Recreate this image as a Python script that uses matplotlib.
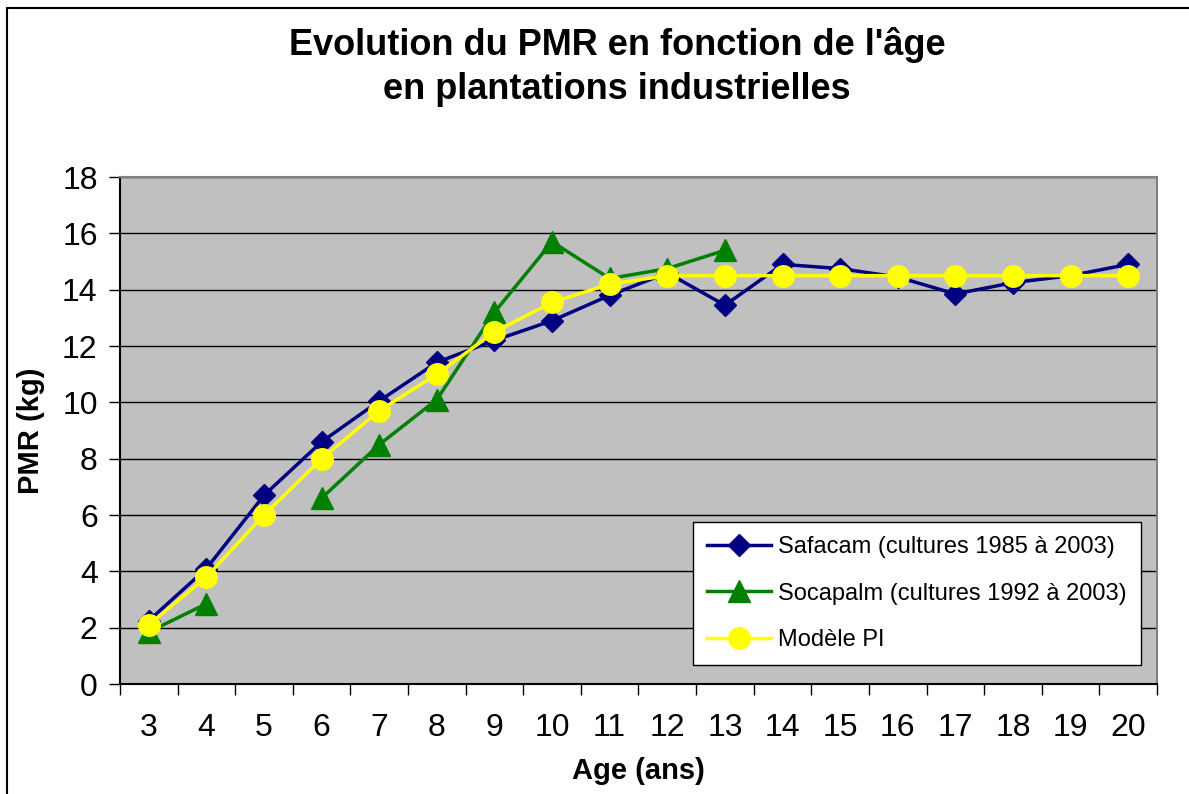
import numpy as np
import matplotlib
matplotlib.use('Agg')
import matplotlib.pyplot as plt
from matplotlib.patches import Rectangle

plt.rcParams['font.family'] = ['Liberation Sans', 'DejaVu Sans']

# données
ages = [3, 4, 5, 6, 7, 8, 9, 10, 11, 12, 13, 14, 15, 16, 17, 18, 19, 20]
safacam = [2.25, 4.1, 6.7, 8.6, 10.05, 11.42, 12.2, 12.9, 13.8, 14.6, 13.45,
           14.9, 14.75, 14.45, 13.85, 14.25, 14.5, 14.9]
socapalm = [1.85, 2.85, np.nan, 6.6, 8.5, 10.1, 13.2, 15.7, 14.4, 14.75, 15.4,
            np.nan, np.nan, np.nan, np.nan, np.nan, np.nan, np.nan]
modele_pi = [2.1, 3.8, 6.0, 8.0, 9.7, 11.0, 12.5, 13.55, 14.2, 14.5, 14.5,
             14.5, 14.5, 14.5, 14.5, 14.5, 14.5, 14.5]
y_ticks = [0, 2, 4, 6, 8, 10, 12, 14, 16, 18]

fig = plt.figure(figsize=(11.89, 7.94), dpi=100)
ax = fig.add_axes([0.1009, 0.1385, 0.8722, 0.6385])
ax.set_facecolor('#C0C0C0')

x = np.arange(len(ages))

ax.plot(x, safacam, color='#000080', marker='D', markersize=11.5, linewidth=2.5,
        label='Safacam (cultures 1985 à 2003)', zorder=3)
ax.plot(x, socapalm, color='#008000', marker='^', markersize=16, linewidth=2.5,
        label='Socapalm (cultures 1992 à 2003)', zorder=4)
ax.plot(x, modele_pi, color='#FFFF00', marker='o', markersize=15.5, linewidth=2.5,
        label='Modèle PI', zorder=5)

# axes
ax.set_xlim(-0.5, len(ages) - 0.5)
ax.set_ylim(0, 18)
ax.set_yticks(y_ticks)
ax.tick_params(axis='y', labelsize=23, length=8, width=1, direction='out', pad=8)
ax.set_xticks(x)
ax.set_xticklabels([str(a) for a in ages])
ax.set_xticks(np.arange(len(ages) + 1) - 0.5, minor=True)
ax.tick_params(axis='x', which='major', labelsize=23, length=0, pad=21)
ax.tick_params(axis='x', which='minor', length=8, width=1, direction='out')

ax.yaxis.grid(True, color='black', linewidth=1)
ax.set_axisbelow(True)

ax.spines['left'].set_color('black')
ax.spines['bottom'].set_color('black')
ax.spines['top'].set_color('#808080')
ax.spines['right'].set_color('#808080')
for s in ax.spines.values():
    s.set_linewidth(1.5)

ax.set_ylabel('PMR (kg)', fontsize=21, fontweight='bold', labelpad=12)
ax.set_xlabel('Age (ans)', fontsize=21, fontweight='bold', labelpad=10)

fig.text(0.519, 0.966, "Evolution du PMR en fonction de l'âge\nen plantations industrielles",
         ha='center', va='top', fontsize=26, fontweight='bold', linespacing=1.35)

# légende
leg = ax.legend(loc='lower right', bbox_to_anchor=(0.9846, 0.0375), fontsize=17,
                frameon=True, fancybox=False, edgecolor='black', framealpha=1,
                handlelength=2.7, handletextpad=0.3, labelspacing=1.03,
                borderpad=0.6, borderaxespad=0)
leg.get_frame().set_linewidth(1)

# cadre du graphique
fig.patches.append(Rectangle((7 / 1189, -0.1), 1.2, (794 - 8) / 794 + 0.1,
                             transform=fig.transFigure, fill=False,
                             edgecolor='black', linewidth=1.5))

fig.savefig('out.png', dpi=100, facecolor='white')
